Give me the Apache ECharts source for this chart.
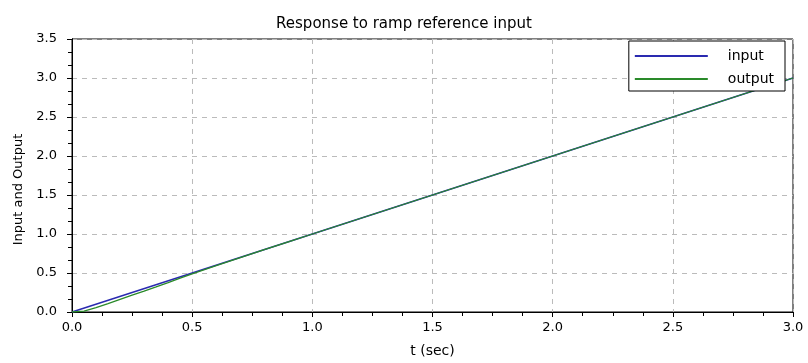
<!DOCTYPE html>
<html>
<head>
<meta charset="utf-8">
<script src="https://cdn.jsdelivr.net/npm/echarts@6/dist/echarts.min.js"></script>
<style>
  html, body { margin: 0; padding: 0; background: #fff; }
  #chart { width: 808px; height: 363px; }
</style>
</head>
<body>
<div id="chart"></div>
<script>
var inputT = [0, 3];
var inputY = [0, 3];
var outputT = [0, 0.05, 0.1, 0.15, 0.2, 0.25, 0.3, 0.35, 0.4, 0.45, 0.5, 0.6, 0.7, 0.8, 0.9, 1.0, 1.25, 1.5, 2.0, 2.5, 3.0];
var outputY = [0, 0.012, 0.055, 0.108, 0.162, 0.215, 0.268, 0.322, 0.377, 0.434, 0.49, 0.594, 0.697, 0.799, 0.9, 1.0, 1.25, 1.5, 2.0, 2.5, 3.0];

function pairs(xs, ys) {
    var list = [];
    for (var i = 0; i < xs.length; i++) {
        list.push([xs[i], ys[i]]);
    }
    return list;
}

var myChart = echarts.init(document.getElementById("chart"));
var font = "DejaVu Sans";
var option = {
    backgroundColor: "#FFFFFF",
    animation: false,
    title: {
        text: "Response to ramp reference input",
        left: "center",
        top: 12,
        textStyle: { fontFamily: font, fontSize: 15, fontWeight: "normal", color: "#000" }
    },
    grid: {
        left: 72, right: 15, top: 39, bottom: 51,
        show: true, borderColor: "#000", borderWidth: 1, backgroundColor: "#fff"
    },
    legend: {
        orient: "vertical",
        right: 23,
        top: 41,
        backgroundColor: "#fff",
        borderColor: "#000",
        borderWidth: 1,
        padding: [7, 11, 4, 6],
        itemGap: 7,
        itemWidth: 73,
        itemHeight: 2,
        icon: "rect",
        textStyle: { fontFamily: font, fontSize: 14, lineHeight: 16, color: "#000", padding: [0, 0, 0, 15] },
        data: ["input", "output"]
    },
    xAxis: [
        {
            type: "value",
            min: 0, max: 3, interval: 0.5,
            name: "t (sec)",
            nameLocation: "middle",
            nameGap: 32,
            nameTextStyle: { fontFamily: font, fontSize: 14, color: "#000" },
            axisLine: { lineStyle: { color: "#000" } },
            axisTick: { length: 5, lineStyle: { color: "#000" } },
            minorTick: { show: true, splitNumber: 4, length: 4, lineStyle: { color: "#000" } },
            axisLabel: {
                fontFamily: font, fontSize: 13, color: "#000", margin: 9,
                formatter: function (v) { return v.toFixed(1); }
            },
            splitLine: { show: true, lineStyle: { color: "#bbb", type: [5, 5] } }
        },
        {
            type: "value",
            position: "top",
            min: 0, max: 3,
            axisLine: { show: true, lineStyle: { color: "#000" } },
            axisTick: { show: false },
            axisLabel: { show: false },
            splitLine: { show: false }
        }
    ],
    yAxis: [
        {
            type: "value",
            min: 0, max: 3.5, interval: 0.5,
            name: "Input and Output",
            nameLocation: "middle",
            nameGap: 47,
            nameTextStyle: { fontFamily: font, fontSize: 13, color: "#000", padding: [0, 28, 0, 0] },
            axisLine: { show: true, lineStyle: { color: "#000" } },
            axisTick: { show: true, length: 5, lineStyle: { color: "#000" } },
            minorTick: { show: true, splitNumber: 3, length: 4, lineStyle: { color: "#000" } },
            axisLabel: {
                fontFamily: font, fontSize: 13, color: "#000", margin: 15,
                formatter: function (v) { return v.toFixed(1); }
            },
            splitLine: { show: true, lineStyle: { color: "#bbb", type: [5, 5] } }
        },
        {
            type: "value",
            position: "right",
            min: 0, max: 3.5,
            axisLine: { show: true, lineStyle: { color: "#000" } },
            axisTick: { show: false },
            axisLabel: { show: false },
            splitLine: { show: false }
        }
    ],
    series: [
        {
            name: "input",
            type: "line",
            showSymbol: false,
            color: "#2a2ab0",
            lineStyle: { width: 1.5 },
            data: pairs(inputT, inputY)
        },
        {
            name: "output",
            type: "line",
            showSymbol: false,
            color: "#2a8a2a",
            lineStyle: { width: 1.3 },
            data: pairs(outputT, outputY)
        }
    ]
};
myChart.setOption(option);
</script>
</body>
</html>
